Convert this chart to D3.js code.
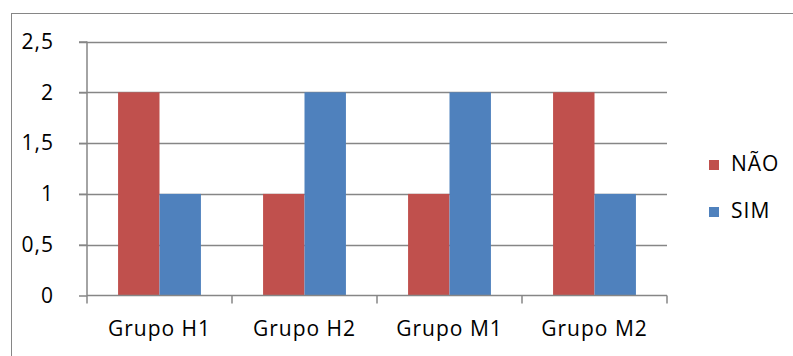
<!DOCTYPE html>
<html>
<head>
<meta charset="utf-8">
<script src="https://cdn.jsdelivr.net/npm/d3@7"></script>
<style>
  html, body { margin: 0; padding: 0; background: #fff; }
  svg { display: block; }
  text { font-family: "Open Sans", Lato, sans-serif; fill: #000; letter-spacing: 1px; }
</style>
</head>
<body>
<svg id="chart" width="793" height="356"></svg>
<script>
// Respostas por grupo
const categories = ["Grupo H1", "Grupo H2", "Grupo M1", "Grupo M2"];
const seriesNames = ["NÃO", "SIM"];
const naoValues = [2, 1, 1, 2];
const simValues = [1, 2, 2, 1];
const yTicks = [0, 0.5, 1, 1.5, 2, 2.5];
const colors = ["#C0504D", "#4F81BD"];

const svg = d3.select("#chart");
const fmt = v => String(v).replace(".", ",");
const FONT = "'Open Sans', Lato, sans-serif";
const FS = 21;

// outer chart frame
svg.append("rect")
  .attr("x", 11.5).attr("y", 13.5)
  .attr("width", 790).attr("height", 360)
  .attr("fill", "none").attr("stroke", "#868686").attr("stroke-width", 1);

const plot = { left: 87, right: 667, top: 41.5, bottom: 295.5 };

const x = d3.scaleBand().domain(categories).range([plot.left, plot.right]);
const y = d3.scaleLinear().domain([0, 2.5]).range([plot.bottom, plot.top]);

// horizontal gridlines
svg.append("g").selectAll("line").data(yTicks.filter(t => t > 0)).join("line")
  .attr("x1", plot.left - 8).attr("x2", plot.right)
  .attr("y1", d => Math.round(y(d)) + 0.5).attr("y2", d => Math.round(y(d)) + 0.5)
  .attr("stroke", "#868686").attr("stroke-width", 1.5);

// bars
const barW = x.bandwidth() / 3.5;
const groupOffset = (x.bandwidth() - 2 * barW) / 2;
const rows = categories.map((c, i) => ({ cat: c, vals: [naoValues[i], simValues[i]] }));
const g = svg.append("g");
rows.forEach(r => {
  r.vals.forEach((v, s) => {
    g.append("rect")
      .attr("x", x(r.cat) + groupOffset + s * barW)
      .attr("y", y(v))
      .attr("width", barW)
      .attr("height", y(0) - y(v))
      .attr("fill", colors[s]);
  });
});

// y axis
const yAxis = svg.append("g").attr("transform", `translate(${plot.left},0)`)
  .call(d3.axisLeft(y).tickValues(yTicks).tickFormat(fmt).tickSize(8).tickPadding(25));
yAxis.select(".domain").attr("stroke", "#868686").attr("stroke-width", 1.5).attr("d", `M0,${plot.top}V${plot.bottom}`);
yAxis.selectAll(".tick line").attr("stroke", "#868686").attr("stroke-width", 1.5);
yAxis.selectAll(".tick text").attr("font-size", FS).attr("font-family", FONT).attr("fill", "#000");

// x axis
const xAxis = svg.append("g").attr("transform", `translate(0,${plot.bottom})`)
  .call(d3.axisBottom(x).tickSize(0).tickPadding(26));
xAxis.select(".domain").attr("stroke", "#868686").attr("stroke-width", 1.5).attr("d", `M${plot.left},0H${plot.right}`);
xAxis.selectAll(".tick text").attr("font-size", FS).attr("font-family", FONT).attr("fill", "#000");
// category boundary ticks
const bounds = categories.map(c => x(c)).concat([plot.right]);
xAxis.append("g").selectAll("line").data(bounds).join("line")
  .attr("x1", d => d).attr("x2", d => d).attr("y1", 0).attr("y2", 8)
  .attr("stroke", "#868686").attr("stroke-width", 1.5);

// legend
const legend = svg.append("g");
seriesNames.forEach((name, i) => {
  const ly = 160 + i * 47;
  legend.append("rect").attr("x", 709).attr("y", ly).attr("width", 10).attr("height", 10).attr("fill", colors[i]);
  legend.append("text").attr("x", 731).attr("y", ly + 11).attr("font-size", FS).attr("font-family", FONT).text(name);
});
</script>
</body>
</html>
